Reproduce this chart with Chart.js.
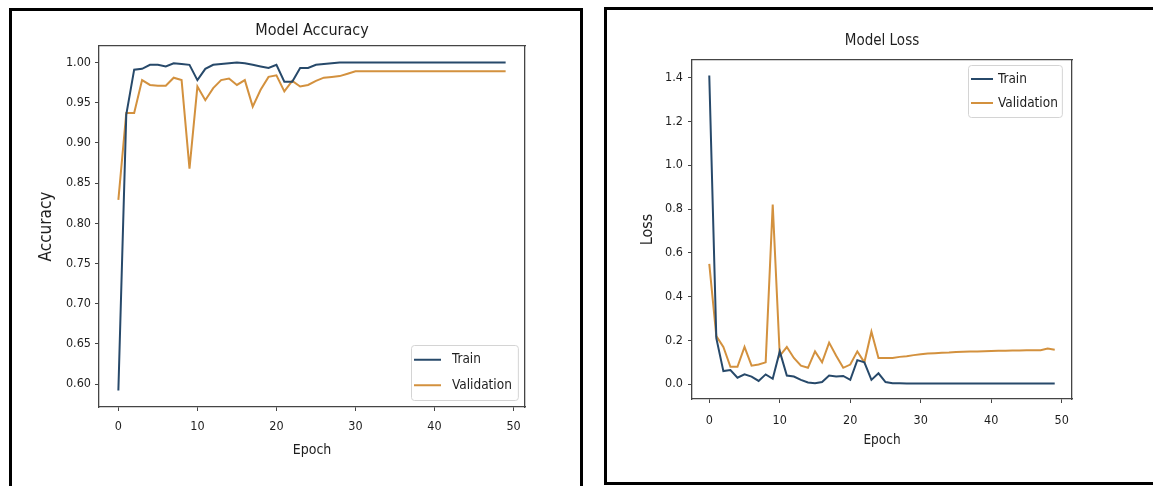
<!DOCTYPE html>
<html>
<head>
<meta charset="utf-8">
<script src="https://cdn.jsdelivr.net/npm/chart.js@4.4.1/dist/chart.umd.min.js"></script>
<style>
body { margin:0; background:#fff; width:1153px; height:486px; overflow:hidden; position:relative; }
.panel { position:absolute; border:3px solid #000; }
#boxA { left:9px; top:8px; width:568px; height:500px; }
#boxB { left:604px; top:7px; width:600px; height:472px; }
canvas { position:absolute; top:0; }
#accChart { left:0; }
#lossChart { left:600px; }
</style>
</head>
<body>
<div class="panel" id="boxA"></div>
<div class="panel" id="boxB"></div>
<canvas id="accChart" width="585" height="486"></canvas>
<canvas id="lossChart" width="553" height="486"></canvas>
<script>
// data
var epochs = [0,1,2,3,4,5,6,7,8,9,10,11,12,13,14,15,16,17,18,19,20,21,22,23,24,25,26,27,28,29,30,31,32,33,34,35,36,37,38,39,40,41,42,43,44,45,46,47,48,49];
var trainAcc = [0.592,0.935,0.991,0.992,0.997,0.997,0.995,0.999,0.998,0.997,0.978,0.992,0.997,0.998,0.999,1.000,0.999,0.997,0.995,0.993,0.997,0.976,0.976,0.993,0.993,0.997,0.998,0.999,1.000,1.000,1.000,1.000,1.000,1.000,1.000,1.000,1.000,1.000,1.000,1.000,1.000,1.000,1.000,1.000,1.000,1.000,1.000,1.000,1.000,1.000];
var valAcc = [0.829,0.937,0.937,0.978,0.972,0.971,0.971,0.981,0.978,0.868,0.970,0.953,0.968,0.978,0.980,0.972,0.978,0.945,0.966,0.982,0.984,0.964,0.977,0.970,0.972,0.977,0.981,0.982,0.983,0.986,0.989,0.989,0.989,0.989,0.989,0.989,0.989,0.989,0.989,0.989,0.989,0.989,0.989,0.989,0.989,0.989,0.989,0.989,0.989,0.989];
var trainLoss = [1.41,0.21,0.06,0.065,0.03,0.045,0.035,0.015,0.045,0.025,0.15,0.04,0.035,0.02,0.008,0.005,0.01,0.04,0.035,0.038,0.02,0.11,0.10,0.02,0.05,0.01,0.005,0.004,0.003,0.003,0.003,0.003,0.003,0.003,0.003,0.003,0.003,0.003,0.003,0.003,0.003,0.003,0.003,0.003,0.003,0.003,0.003,0.003,0.003,0.003];
var valLoss = [0.55,0.22,0.17,0.08,0.08,0.17,0.085,0.09,0.10,0.82,0.13,0.17,0.12,0.085,0.075,0.15,0.10,0.19,0.13,0.075,0.09,0.15,0.10,0.24,0.12,0.12,0.12,0.125,0.128,0.133,0.137,0.14,0.142,0.144,0.145,0.147,0.148,0.149,0.15,0.151,0.152,0.153,0.153,0.154,0.154,0.155,0.155,0.155,0.163,0.158];
var epochTicks = [0,10,20,30,40,50];
var accTicks = [0.60,0.65,0.70,0.75,0.80,0.85,0.90,0.95,1.00];
var lossTicks = [0.0,0.2,0.4,0.6,0.8,1.0,1.2,1.4];

var FONT = "'DejaVu Sans Condensed', 'Liberation Sans Narrow', 'DejaVu Sans', sans-serif";
var TXT = '#1e1e1e';
var SPINE = '#454545';
Chart.defaults.font.family = FONT;
Chart.defaults.color = TXT;

// matplotlib like 5% margins
function pad(arrs) {
	var all = [].concat.apply([], arrs);
	var lo = Math.min.apply(null, all), hi = Math.max.apply(null, all);
	var m = (hi - lo) * 0.05;
	return {min: lo - m, max: hi + m};
}

// legend with a box inside the plot
var boxLegend = {
	id: 'boxLegend',
	afterDatasetsDraw: function(chart, args, o) {
		var ctx = chart.ctx, a = chart.chartArea, sets = chart.data.datasets;
		ctx.save();
		ctx.font = o.size + 'px ' + FONT;
		var tw = 0;
		sets.forEach(function(d) { tw = Math.max(tw, ctx.measureText(d.label).width); });
		var w = o.padL + o.handle + o.gap + tw + o.padR;
		var h = o.rowH * sets.length + o.padV * 2;
		var x = Math.round(a.right - o.insetX - w);
		var y = o.upper ? Math.round(a.top + o.insetY) : Math.round(a.bottom - o.insetY - h);
		ctx.fillStyle = 'rgba(255,255,255,0.85)';
		ctx.strokeStyle = '#d4d4d4';
		ctx.lineWidth = 1;
		ctx.beginPath(); ctx.roundRect(x + 0.5, y + 0.5, w, h, 3); ctx.fill(); ctx.stroke();
		sets.forEach(function(d, i) {
			var cy = y + o.padV + o.rowH * (i + 0.5);
			ctx.strokeStyle = d.borderColor; ctx.lineWidth = d.borderWidth;
			ctx.beginPath(); ctx.moveTo(x + o.padL, cy); ctx.lineTo(x + o.padL + o.handle, cy); ctx.stroke();
			ctx.fillStyle = TXT; ctx.textBaseline = 'middle'; ctx.textAlign = 'left';
			ctx.fillText(d.label, x + o.padL + o.handle + o.gap, cy);
		});
		ctx.restore();
	}
};

function makeChart(id, c) {
	var xr = pad([epochs]);
	var yr = pad([c.train, c.val]);
	var ticksOf = function(list) { return function(s) { s.ticks = list.map(function(v) { return {value: v}; }); }; };
	var spine = {display: true, color: SPINE, width: 1.3};
	return new Chart(document.getElementById(id), {
		type: 'line',
		data: {
			labels: epochs,
			datasets: [
				{label: 'Train', data: c.train, borderColor: '#27496a', borderWidth: 2, pointRadius: 0, tension: 0, fill: false},
				{label: 'Validation', data: c.val, borderColor: '#d3913e', borderWidth: 2, pointRadius: 0, tension: 0, fill: false}
			]
		},
		options: {
			responsive: false,
			animation: false,
			parsing: true,
			layout: {padding: {left: 0, right: c.padRight, top: 0, bottom: 0}},
			plugins: {legend: {display: false}, tooltip: {enabled: false}, boxLegend: c.legend},
			scales: {
				x: {
					type: 'linear', position: 'bottom', min: xr.min, max: xr.max, bounds: 'data',
					afterBuildTicks: ticksOf(epochTicks),
					afterFit: function(s) { s.height = c.xH; },
					ticks: {font: {size: c.tickSize}, padding: c.xTickPad, maxRotation: 0, color: TXT},
					grid: {display: true, drawOnChartArea: false, drawTicks: true, tickLength: 4, color: SPINE},
					border: spine,
					title: {display: true, text: 'Epoch', font: {size: c.epochSize}, padding: {top: 0, bottom: c.epochPad}, color: TXT}
				},
				x2: {
					type: 'linear', position: 'top', min: xr.min, max: xr.max,
					afterFit: function(s) { s.height = c.topH; },
					ticks: {display: false}, grid: {display: false}, border: spine,
					title: {display: true, text: c.title, font: {size: c.titleSize}, padding: {top: c.titlePad, bottom: 0}, color: TXT}
				},
				y: {
					type: 'linear', position: 'left', min: yr.min, max: yr.max, bounds: 'data',
					afterBuildTicks: ticksOf(c.yTicks),
					afterFit: function(s) { s.width = c.yW; },
					ticks: {font: {size: c.tickSize}, padding: c.yTickPad, color: TXT, callback: function(v) { return v.toFixed(c.dec); }},
					grid: {display: true, drawOnChartArea: false, drawTicks: true, tickLength: 4, color: SPINE},
					border: spine,
					title: {display: true, text: c.yLabel, font: {size: c.yLabelSize}, padding: {top: c.yLabelPad, bottom: 0}, color: TXT}
				},
				y2: {
					type: 'linear', position: 'right', min: yr.min, max: yr.max,
					afterFit: function(s) { s.width = 0; },
					ticks: {display: false}, grid: {display: false}, border: spine
				}
			}
		},
		plugins: [boxLegend]
	});
}

// Model Accuracy
makeChart('accChart', {
	train: trainAcc, val: valAcc, yTicks: accTicks, dec: 2,
	title: 'Model Accuracy', titleSize: 16, titlePad: 21,
	yLabel: 'Accuracy', yLabelSize: 17, yLabelPad: 36,
	padRight: 60, yW: 99, topH: 46, xH: 79,
	tickSize: 12.5, xTickPad: 8, yTickPad: 4, epochSize: 14, epochPad: 27,
	legend: {upper: false, size: 13.5, rowH: 25.5, padV: 2, padL: 3, padR: 6, handle: 27, gap: 11, insetX: 7, insetY: 7}
});

// Model Loss
makeChart('lossChart', {
	train: trainLoss, val: valLoss, yTicks: lossTicks, dec: 1,
	title: 'Model Loss', titleSize: 15, titlePad: 32,
	yLabel: 'Loss', yLabelSize: 16, yLabelPad: 38,
	padRight: 81, yW: 92, topH: 60, xH: 87,
	tickSize: 12.5, xTickPad: 10, yTickPad: 5, epochSize: 13.5, epochPad: 37,
	legend: {upper: true, size: 13.5, rowH: 24, padV: 2, padL: 3, padR: 4, handle: 22, gap: 5, insetX: 10, insetY: 5}
});
</script>
</body>
</html>
